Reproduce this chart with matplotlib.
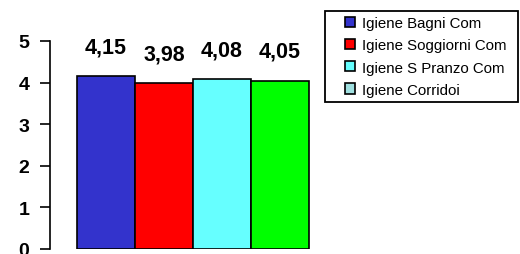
import matplotlib
matplotlib.use("Agg")
import matplotlib.pyplot as plt
from matplotlib.patches import Patch, Rectangle

categories = ["Igiene Bagni Com", "Igiene Soggiorni Com", "Igiene S Pranzo Com", "Igiene Corridoi"]
values = [4.15, 3.98, 4.08, 4.05]
bar_colors = ["#3333CC", "#FF0000", "#66FFFF", "#00FF00"]
legend_colors = ["#3333CC", "#FF0000", "#66FFFF", "#A0E0E0"]
value_labels = ["4,15", "3,98", "4,08", "4,05"]
yticks = [0, 1, 2, 3, 4, 5]

plt.rcParams['font.family'] = ['Liberation Sans', 'DejaVu Sans']

W, H = 520, 255
fig = plt.figure(figsize=(W / 100, H / 100), dpi=100)
ax = fig.add_axes([50 / W, 5 / H, (336 - 50) / W, (250 - 42) / H])

x = list(range(len(values)))
ax.bar(x, values, width=1.0, color=bar_colors, edgecolor='black', linewidth=1.2)
for xi, v, lab in zip(x, values, value_labels):
    ax.annotate(lab, (xi, v), xytext=(0, 21), textcoords='offset points',
                ha='center', va='center', fontsize=15.5, fontweight='bold')

ax.set_xlim(-0.966, 3.966)
ax.set_ylim(0, 5)
ax.set_yticks(yticks)
ax.set_yticklabels([str(t) for t in yticks], fontsize=14, fontweight='bold')
ax.set_xticks([])
for s in ['top', 'right', 'bottom']:
    ax.spines[s].set_visible(False)
ax.spines['left'].set_linewidth(1.2)
ax.tick_params(axis='y', direction='out', length=7, width=1.2, pad=8)
ax.patch.set_alpha(0)

# legend box
fig.add_artist(Rectangle((325 / W, 1 - 103 / H), (518 - 325) / W, (103 - 12) / H,
                         transform=fig.transFigure, facecolor='white',
                         edgecolor='black', linewidth=1.3, zorder=2))
handles = [Patch(facecolor=c, edgecolor='black', linewidth=1.2) for c in legend_colors]
leg = fig.legend(handles, categories, loc='upper left',
                 bbox_to_anchor=(345 / W, 1 - 17 / H), fontsize=10.8,
                 frameon=False, handlelength=0.68, handleheight=0.68,
                 handletextpad=0.45, borderpad=0, labelspacing=0.55,
                 borderaxespad=0)
leg.set_zorder(3)

fig.savefig("out.png", dpi=100)
